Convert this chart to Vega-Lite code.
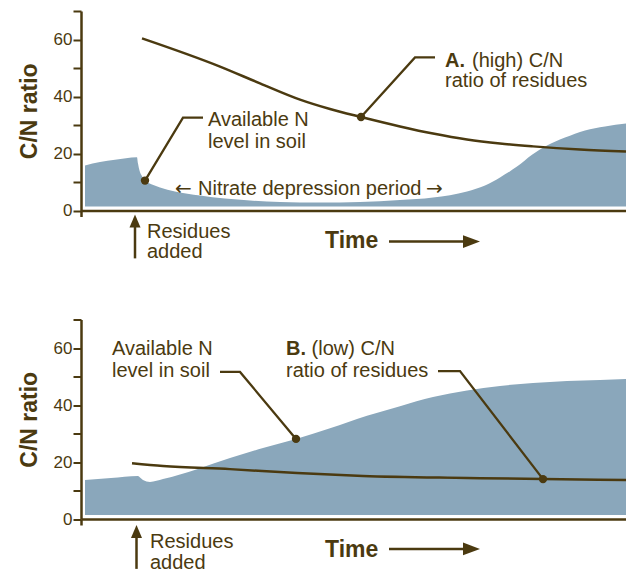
{
  "$schema": "https://vega.github.io/schema/vega-lite/v6.json",
  "background": "white",
  "padding": {"left": 18, "top": 10, "right": 0, "bottom": 0},
  "spacing": 108.5,
  "bounds": "flush",
  "config": {
    "view": {"stroke": null},
    "font": "Liberation Sans",
    "axis": {"domainColor": "#4b3a10", "tickColor": "#4b3a10", "labelColor": "#4b3a10", "titleColor": "#4b3a10", "labelFont": "Liberation Sans", "titleFont": "Liberation Sans", "grid": false}
  },
  "datasets": {
    "areaA": [{"x":4,"y":15.8},{"x":19,"y":17.0},{"x":34,"y":17.8},{"x":56,"y":18.7},{"x":57,"y":16.5},{"x":58.5,"y":14.0},{"x":61,"y":12.0},{"x":64,"y":10.5},{"x":71,"y":9.1},{"x":79,"y":8.1},{"x":94,"y":6.7},{"x":119,"y":5.3},{"x":144,"y":4.2},{"x":169,"y":3.5},{"x":199,"y":3.0},{"x":239,"y":2.8},{"x":279,"y":3.0},{"x":319,"y":3.7},{"x":352,"y":4.6},{"x":386,"y":6.7},{"x":404,"y":8.8},{"x":419,"y":11.6},{"x":436,"y":15.4},{"x":451,"y":19.6},{"x":466,"y":22.8},{"x":484,"y":25.6},{"x":504,"y":28.1},{"x":524,"y":29.5},{"x":545,"y":30.5}],
    "lineA": [{"x":61,"y":60.4},{"x":139,"y":50.5},{"x":179,"y":44.6},{"x":219,"y":38.9},{"x":249,"y":35.6},{"x":280,"y":32.8},{"x":319,"y":29.5},{"x":352,"y":27.0},{"x":386,"y":24.9},{"x":419,"y":23.5},{"x":452,"y":22.5},{"x":499,"y":21.4},{"x":545,"y":20.7}],
    "leadA": [{"id":1,"o":1,"x":64,"y":10.5},{"id":1,"o":2,"x":102,"y":32.6},{"id":1,"o":3,"x":122,"y":32.6},{"id":2,"o":1,"x":280,"y":32.8},{"id":2,"o":2,"x":334,"y":53.7},{"id":2,"o":3,"x":354,"y":53.7}],
    "dotA": [{"x":64,"y":10.5},{"x":280,"y":32.8}],
    "noteA": [{"x":127,"y":29.5,"text":"Available N"},{"x":127,"y":21.8,"text":"level in soil"},{"x":391,"y":50.5,"text":"(high) C/N"},{"x":364,"y":43.2,"text":"ratio of residues"},{"x":117,"y":5.6,"text":"Nitrate depression period"},{"x":66,"y":-9.5,"text":"Residues"},{"x":66,"y":-16.8,"text":"added"}],
    "arrowsA": [{"x":94,"y":5.6,"text":"←"},{"x":345,"y":5.6,"text":"→"}],
    "boldA": [{"x":364,"y":50.5,"text":"A."}],
    "timeA": [{"x":244,"y":-13.3,"text":"Time"}],
    "harA": [{"x":308,"x2":391,"y":-10.9}],
    "harHeadA": [{"x":390.5,"y":-10.9}],
    "varA": [{"x":54,"y":-4.9,"y2":-16.8}],
    "varHeadA": [{"x":54,"y":-3.7}],
    "areaB": [{"x":4,"y":13.7},{"x":30,"y":14.4},{"x":57,"y":15.1},{"x":59,"y":14.6},{"x":62,"y":13.7},{"x":69,"y":13.0},{"x":82,"y":14.0},{"x":116,"y":17.5},{"x":149,"y":21.4},{"x":182,"y":24.9},{"x":215,"y":28.1},{"x":249,"y":31.8},{"x":286,"y":36.2},{"x":319,"y":39.6},{"x":352,"y":42.8},{"x":386,"y":45.1},{"x":419,"y":46.7},{"x":452,"y":47.7},{"x":486,"y":48.4},{"x":519,"y":48.8},{"x":545,"y":49.1}],
    "lineB": [{"x":51,"y":19.6},{"x":82,"y":18.6},{"x":149,"y":17.5},{"x":216,"y":16.1},{"x":282,"y":15.1},{"x":386,"y":14.4},{"x":462,"y":14.0},{"x":545,"y":13.7}],
    "leadB": [{"id":1,"o":1,"x":139,"y":51.6},{"id":1,"o":2,"x":159,"y":51.6},{"id":1,"o":3,"x":215,"y":28.1},{"id":2,"o":1,"x":357,"y":51.9},{"id":2,"o":2,"x":379,"y":51.9},{"id":2,"o":3,"x":462,"y":14.0}],
    "dotB": [{"x":215,"y":28.1},{"x":462,"y":14.0}],
    "noteB": [{"x":31,"y":57.5,"text":"Available N"},{"x":31,"y":49.8,"text":"level in soil"},{"x":230.6,"y":57.5,"text":"(low) C/N"},{"x":205,"y":49.8,"text":"ratio of residues"},{"x":69,"y":-10.2,"text":"Residues"},{"x":69,"y":-17.5,"text":"added"}],
    "boldB": [{"x":205,"y":57.5,"text":"B."}],
    "timeB": [{"x":244,"y":-13.3,"text":"Time"}],
    "harB": [{"x":308,"x2":391,"y":-10.5}],
    "harHeadB": [{"x":390.5,"y":-10.5}],
    "varB": [{"x":55.5,"y":-4.9,"y2":-17.5}],
    "varHeadB": [{"x":55.5,"y":-4.4}]
  },
  "vconcat": [
    {
      "width": 545,
      "height": 199.5,
      "encoding": {
        "x": {"field": "x", "type": "quantitative", "scale": {"domain": [0, 545], "nice": false, "zero": false}, "axis": {"title": null, "values": [0], "labels": false, "tickSize": 6, "tickWidth": 2.5, "domainWidth": 2.5}},
        "y": {"field": "y", "type": "quantitative", "scale": {"domain": [0, 70], "nice": false}, "axis": {"title": "C/N ratio", "values": [0,10,20,30,40,50,60,70], "labelExpr": "datum.value % 20 === 0 ? datum.label : ''", "tickSize": 8, "tickWidth": 2, "domainWidth": 2.5, "labelFontSize": 17, "labelPadding": 1, "titleFontSize": 23, "titleFontWeight": "bold", "titlePadding": 12}}
      },
      "layer": [
        {"data": {"name": "areaA"}, "mark": {"type": "area", "interpolate": "monotone", "color": "#8aa7bb"}, "encoding": {"y2": {"datum": 1.4}}},
        {"data": {"name": "lineA"}, "mark": {"type": "line", "interpolate": "monotone", "color": "#4b3a10", "strokeWidth": 2.5}, "encoding": {}},
        {"data": {"name": "leadA"}, "mark": {"type": "line", "color": "#4b3a10", "strokeWidth": 2.3}, "encoding": {"detail": {"field": "id"}, "order": {"field": "o"}}},
        {"data": {"name": "dotA"}, "mark": {"type": "point", "filled": true, "opacity": 1, "size": 70, "color": "#4b3a10"}},
        {"data": {"name": "noteA"}, "mark": {"type": "text", "align": "left", "baseline": "alphabetic", "fontSize": 20, "font": "Liberation Sans", "color": "#4b3a10"}, "encoding": {"text": {"field": "text"}}},
        {"data": {"name": "arrowsA"}, "mark": {"type": "text", "align": "left", "baseline": "alphabetic", "fontSize": 20, "font": "DejaVu Sans", "color": "#4b3a10"}, "encoding": {"text": {"field": "text"}}},
        {"data": {"name": "boldA"}, "mark": {"type": "text", "align": "left", "baseline": "alphabetic", "fontSize": 20, "fontWeight": "bold", "font": "Liberation Sans", "color": "#4b3a10"}, "encoding": {"text": {"field": "text"}}},
        {"data": {"name": "timeA"}, "mark": {"type": "text", "align": "left", "baseline": "alphabetic", "fontSize": 23, "fontWeight": "bold", "font": "Liberation Sans", "color": "#4b3a10"}, "encoding": {"text": {"field": "text"}}},
        {"data": {"name": "harA"}, "mark": {"type": "rule", "color": "#4b3a10", "strokeWidth": 2.5}, "encoding": {"x2": {"field": "x2"}}},
        {"data": {"name": "harHeadA"}, "mark": {"type": "point", "shape": "M1,0L-1,-0.75L-1,0.75Z", "filled": true, "opacity": 1, "size": 289, "color": "#4b3a10"}},
        {"data": {"name": "varA"}, "mark": {"type": "rule", "color": "#4b3a10", "strokeWidth": 2.5}, "encoding": {"y2": {"field": "y2"}}},
        {"data": {"name": "varHeadA"}, "mark": {"type": "point", "shape": "M0,-1L0.85,1L-0.85,1Z", "filled": true, "opacity": 1, "size": 169, "color": "#4b3a10"}}
      ]
    },
    {
      "width": 545,
      "height": 199.5,
      "encoding": {
        "x": {"field": "x", "type": "quantitative", "scale": {"domain": [0, 545], "nice": false, "zero": false}, "axis": {"title": null, "values": [0], "labels": false, "tickSize": 6, "tickWidth": 2.5, "domainWidth": 2.5}},
        "y": {"field": "y", "type": "quantitative", "scale": {"domain": [0, 70], "nice": false}, "axis": {"title": "C/N ratio", "values": [0,10,20,30,40,50,60,70], "labelExpr": "datum.value % 20 === 0 ? datum.label : ''", "tickSize": 8, "tickWidth": 2, "domainWidth": 2.5, "labelFontSize": 17, "labelPadding": 1, "titleFontSize": 23, "titleFontWeight": "bold", "titlePadding": 12}}
      },
      "layer": [
        {"data": {"name": "areaB"}, "mark": {"type": "area", "interpolate": "monotone", "color": "#8aa7bb"}, "encoding": {"y2": {"datum": 1.4}}},
        {"data": {"name": "lineB"}, "mark": {"type": "line", "interpolate": "monotone", "color": "#4b3a10", "strokeWidth": 2.5}, "encoding": {}},
        {"data": {"name": "leadB"}, "mark": {"type": "line", "color": "#4b3a10", "strokeWidth": 2.3}, "encoding": {"detail": {"field": "id"}, "order": {"field": "o"}}},
        {"data": {"name": "dotB"}, "mark": {"type": "point", "filled": true, "opacity": 1, "size": 70, "color": "#4b3a10"}},
        {"data": {"name": "noteB"}, "mark": {"type": "text", "align": "left", "baseline": "alphabetic", "fontSize": 20, "font": "Liberation Sans", "color": "#4b3a10"}, "encoding": {"text": {"field": "text"}}},
        {"data": {"name": "boldB"}, "mark": {"type": "text", "align": "left", "baseline": "alphabetic", "fontSize": 20, "fontWeight": "bold", "font": "Liberation Sans", "color": "#4b3a10"}, "encoding": {"text": {"field": "text"}}},
        {"data": {"name": "timeB"}, "mark": {"type": "text", "align": "left", "baseline": "alphabetic", "fontSize": 23, "fontWeight": "bold", "font": "Liberation Sans", "color": "#4b3a10"}, "encoding": {"text": {"field": "text"}}},
        {"data": {"name": "harB"}, "mark": {"type": "rule", "color": "#4b3a10", "strokeWidth": 2.5}, "encoding": {"x2": {"field": "x2"}}},
        {"data": {"name": "harHeadB"}, "mark": {"type": "point", "shape": "M1,0L-1,-0.75L-1,0.75Z", "filled": true, "opacity": 1, "size": 289, "color": "#4b3a10"}},
        {"data": {"name": "varB"}, "mark": {"type": "rule", "color": "#4b3a10", "strokeWidth": 2.5}, "encoding": {"y2": {"field": "y2"}}},
        {"data": {"name": "varHeadB"}, "mark": {"type": "point", "shape": "M0,-1L0.85,1L-0.85,1Z", "filled": true, "opacity": 1, "size": 169, "color": "#4b3a10"}}
      ]
    }
  ]
}
